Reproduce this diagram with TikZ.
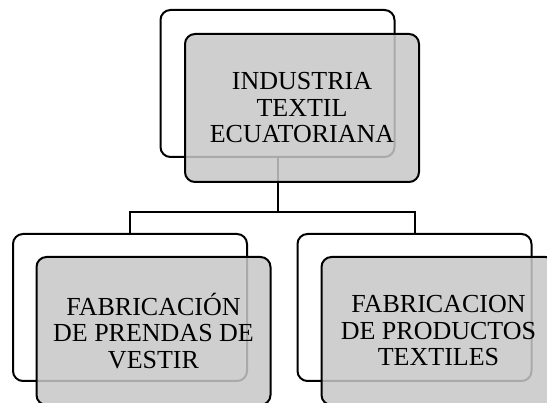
\documentclass[tikz,border=0pt]{standalone}
\usepackage{fontspec}
\setmainfont{Liberation Serif}
\usepackage{tikz}
\usetikzlibrary{shapes}
\tikzstyle{backbox} = [rectangle, draw, line width=2pt, rounded corners=10pt,
    minimum width=234pt, minimum height=147pt, inner sep=0pt]
\tikzstyle{frontbox} = [rectangle, draw, line width=2pt, rounded corners=10pt,
    fill=black!22, fill opacity=0.85, text opacity=1,
    minimum width=234pt, minimum height=148pt, inner sep=0pt,
    align=center, font=\fontsize{26}{26.5}\selectfont]
\tikzstyle{line} = [draw, line width=2pt]

\begin{document}
\begin{tikzpicture}[x=1pt, y=-1pt]
    \clip (0,0) rectangle (547,403);
    % Place nodes
    \node [backbox] (topback) at (277.5,83.5) {};
    \node [backbox] (leftback) at (130,307.5) {};
    \node [backbox] (rightback) at (414.5,307.5) {};
    \coordinate (split) at (277.5,212);
    % Draw edges
    \path [line] (topback.south) -- (split) -| (leftback.north);
    \path [line] (split) -| (rightback.north);
    % Front boxes
    \node [frontbox] (industry) at ([shift={(24.5,24.5)}]topback) {INDUSTRIA\\TEXTIL\\ECUATORIANA};
    \node [frontbox] (clothing) at ([shift={(23.5,23.5)}]leftback) {FABRICACIÓN\\DE PRENDAS DE\\VESTIR};
    \node [frontbox] (products) at ([shift={(24,23.5)}]rightback) {FABRICACION\\DE PRODUCTOS\\TEXTILES};
\end{tikzpicture}
\end{document}
